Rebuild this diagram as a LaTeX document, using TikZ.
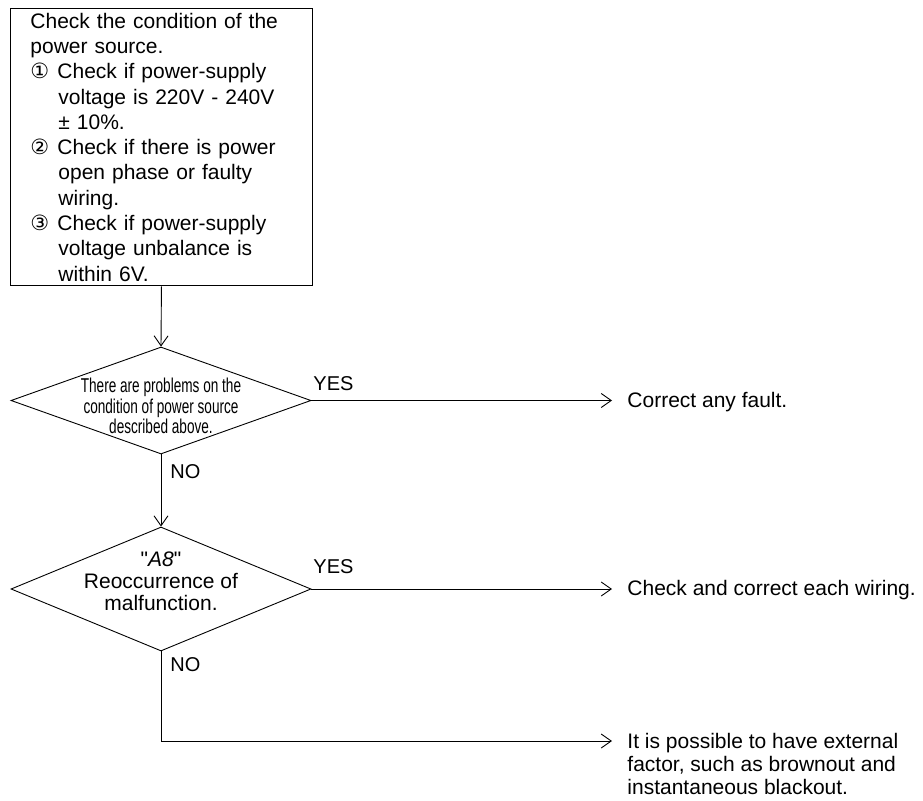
\documentclass[tikz,border=0pt]{standalone}
\usepackage{fontspec}
\setmainfont{Liberation Sans}
\newfontfamily\narrowfont{Liberation Sans}[FakeStretch=0.68]
\newfontfamily\symbolfont{DejaVu Sans}
\usetikzlibrary{shapes.geometric,arrows.meta}

% circled step number in front of a checklist item
\newcommand{\cnum}[1]{\makebox[27pt][l]{\symbolfont\fontsize{21}{21}\selectfont #1}}

\begin{document}
\begin{tikzpicture}[x=1pt,y=-1pt,line width=0.9pt,
    >={Straight Barb[length=10pt,width=14pt]},
    check/.style={diamond, draw, inner sep=0pt, minimum width=300pt},
    lbl/.style={font=\fontsize{20}{22}\selectfont, inner sep=2pt},
    result/.style={font=\fontsize{21}{23}\selectfont, align=left, inner sep=3pt}]
    \useasboundingbox (0,0) rectangle (923,800);

    % Where the arrows to the right end
    \def\tipx{612}

    % Checklist box
    \node[draw, anchor=north west, align=left, text width=262pt,
          inner xsep=20pt, inner ysep=4.5pt,
          font=\fontsize{21}{25.3}\selectfont] (src) at (10,8)
        {Check the condition of the\\
         power source.\\
         \cnum{①}Check if power-supply\\
         \hspace*{28pt}voltage is 220V - 240V\\
         \hspace*{28pt}± 10\%.\\
         \cnum{②}Check if there is power\\
         \hspace*{28pt}open phase or faulty\\
         \hspace*{28pt}wiring.\\
         \cnum{③}Check if power-supply\\
         \hspace*{28pt}voltage unbalance is\\
         \hspace*{28pt}within 6V.};

    % First decision
    \node[check, minimum height=107pt] (d1) at (161,400.5) {};
    \node[font=\narrowfont\fontsize{20}{20.5}\selectfont, align=center] (q1) at (161,406)
        {There are problems on the\\ condition of power source\\ described above.};

    % Second decision
    \node[check, minimum height=124pt] (d2) at (161,589) {};
    \node[font=\fontsize{21}{22}\selectfont, align=center] (q2) at (161,581)
        {\textquotedbl\textit{A8}\textquotedbl\\ Reoccurrence of\\ malfunction.};

    % Results
    \node[result, anchor=west] (fix1) at (624,402) {Correct any fault.};
    \node[result, anchor=west] (fix2) at (624,590) {Check and correct each wiring.};
    \node[result, anchor=west] (fix3) at (624,764)
        {It is possible to have external\\
         factor, such as brownout and\\
         instantaneous blackout.};
    \coordinate (end3) at (\tipx,741);

    % Connectors
    \draw[->] (src.south) -- (d1.north);
    \draw[->] (d1.south) -- (d2.north);
    \draw[->] (d1.east) -- (\tipx,400.5);
    \draw[->] (d2.east) -- (\tipx,589);
    \draw[->] (d2.south) |- (end3);

    % YES / NO
    \node[lbl, anchor=west] (yes1) at (311,384) {YES};
    \node[lbl, anchor=west] (yes2) at (311,567) {YES};
    \node[lbl, anchor=west] (no1) at (168,472) {NO};
    \node[lbl, anchor=west] (no2) at (168,665) {NO};
\end{tikzpicture}
\end{document}
